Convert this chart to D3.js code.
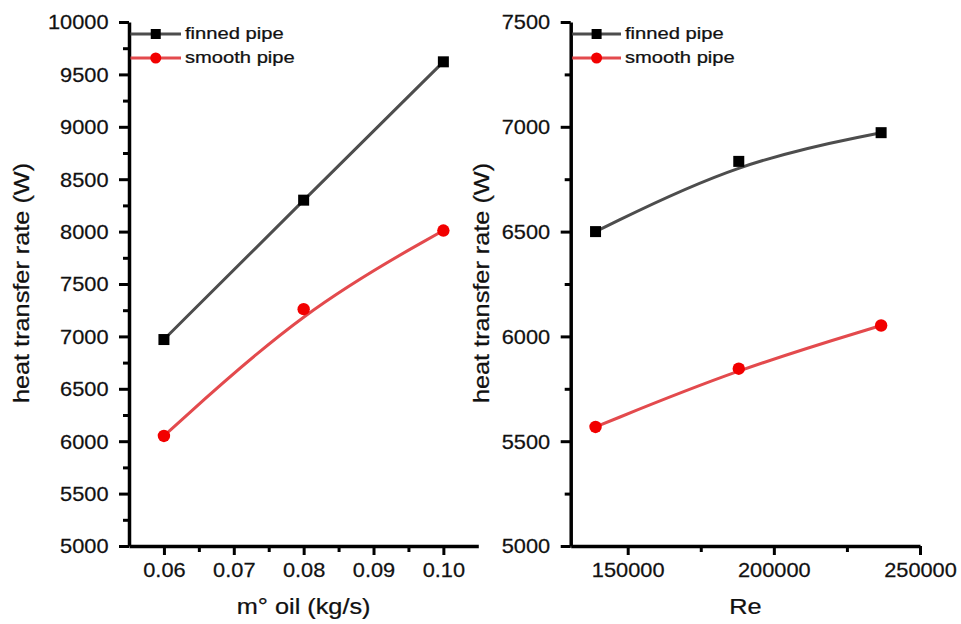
<!DOCTYPE html>
<html><head><meta charset="utf-8">
<script src="https://cdn.jsdelivr.net/npm/d3@7"></script>
<style>
html,body{margin:0;padding:0;background:#fff;}
svg{display:block;}
text{font-family:"Liberation Sans",Arial,sans-serif;fill:#111;stroke:#111;stroke-width:0.25px;}
</style></head>
<body>
<script>
// ---- data ----
const seriesNames = ["finned pipe", "smooth pipe"];
const leftX = [0.06, 0.08, 0.10];
const leftFinned = [6970, 8300, 9620];
const leftSmooth = [6050, 7260, 8010];
const rightRe = [139000, 188000, 236700];
const rightFinned = [6500, 6835, 6972];
const rightSmooth = [5568, 5846, 6052];
const leftXTicks = [0.06, 0.07, 0.08, 0.09, 0.10];
const leftXMinor = [0.065, 0.075, 0.085, 0.095];
const leftYTicks = [5000, 5500, 6000, 6500, 7000, 7500, 8000, 8500, 9000, 9500, 10000];
const leftYMinor = [5250, 5750, 6250, 6750, 7250, 7750, 8250, 8750, 9250, 9750];
const rightXTicks = [150000, 200000, 250000];
const rightXMinor = [175000, 225000];
const rightYTicks = [5000, 5500, 6000, 6500, 7000, 7500];
const rightYMinor = [5250, 5750, 6250, 6750, 7250];
const xTitles = ["m° oil (kg/s)", "Re"];
const yTitle = "heat transfer rate (W)";

const W = 961, H = 624;
const svg = d3.select("body").append("svg").attr("width", W).attr("height", H);

const colFinLine = "#4d4d4d", colFinMark = "#000000";
const colSmLine = "#e34a4d", colSmMark = "#f20000";

function panel(cfg) {
  const x = d3.scaleLinear().domain(cfg.xDomain).range(cfg.xRange);
  const y = d3.scaleLinear().domain(cfg.yDomain).range(cfg.yRange);
  const g = svg.append("g");
  const y0 = cfg.yRange[0], x0 = cfg.xRange[0];

  // minor ticks
  g.append("g").attr("transform", `translate(0,${y0})`)
    .call(d3.axisBottom(x).tickValues(cfg.xMinor).tickSize(6).tickFormat(""))
    .call(s => s.select(".domain").remove())
    .call(s => s.selectAll("line").attr("stroke", "#000").attr("stroke-width", 3));
  g.append("g").attr("transform", `translate(${x0},0)`)
    .call(d3.axisLeft(y).tickValues(cfg.yMinor).tickSize(6).tickFormat(""))
    .call(s => s.select(".domain").remove())
    .call(s => s.selectAll("line").attr("stroke", "#000").attr("stroke-width", 3));

  // major x axis
  const gx = g.append("g").attr("transform", `translate(0,${y0})`)
    .call(d3.axisBottom(x).tickValues(cfg.xTicks).tickSize(9).tickSizeOuter(0).tickFormat(cfg.xFmt));
  gx.select(".domain").attr("stroke", "#000").attr("stroke-width", 3.5);
  gx.selectAll("line").attr("stroke", "#000").attr("stroke-width", 3);
  gx.selectAll("text").attr("font-size", 20).attr("y", 17).attr("dy", "0.71em")
    .attr("transform", "scale(1.09,1)").attr("fill", "#111");

  // major y axis
  const gy = g.append("g").attr("transform", `translate(${x0},0)`)
    .call(d3.axisLeft(y).tickValues(cfg.yTicks).tickSize(10).tickSizeOuter(0).tickFormat(d3.format("d")));
  gy.select(".domain").attr("stroke", "#000").attr("stroke-width", 3.5);
  gy.selectAll("line").attr("stroke", "#000").attr("stroke-width", 3);
  gy.selectAll("text").attr("font-size", 20).attr("x", -20.5 / 1.09).attr("dy", "0.34em")
    .attr("transform", "scale(1.09,1)").attr("fill", "#111");

  // titles
  g.append("text").attr("text-anchor", "middle").attr("font-size", 22)
    .attr("transform", `translate(${(cfg.xRange[0] + cfg.xRange[1]) / 2},614) scale(1.15,1)`)
    .text(cfg.xTitle);
  g.append("text").attr("text-anchor", "middle").attr("font-size", 22)
    .attr("transform", `translate(${cfg.yTitleX},${(cfg.yRange[0] + cfg.yRange[1]) / 2 - 1}) rotate(-90) scale(1.15,1)`)
    .text(yTitle);

  // lines
  const line = d3.line().x(d => x(d[0])).y(d => y(d[1])).curve(d3.curveBasis);
  const fin = cfg.xs.map((v, i) => [v, cfg.fin[i]]);
  const sm = cfg.xs.map((v, i) => [v, cfg.sm[i]]);
  g.append("path").datum(fin).attr("d", line).attr("fill", "none")
    .attr("stroke", colFinLine).attr("stroke-width", 3);
  g.append("path").datum(sm).attr("d", line).attr("fill", "none")
    .attr("stroke", colSmLine).attr("stroke-width", 3);
  g.selectAll(".sq").data(fin).join("rect")
    .attr("x", d => x(d[0]) - 5.5).attr("y", d => y(d[1]) - 5.5)
    .attr("width", 11).attr("height", 11).attr("fill", colFinMark);
  g.selectAll(".ci").data(sm).join("circle")
    .attr("cx", d => x(d[0])).attr("cy", d => y(d[1])).attr("r", 6.2).attr("fill", colSmMark);

  // legend
  const lx0 = x0 + 1.5, lx1 = cfg.legEnd, lm = (lx0 + lx1) / 2;
  const ly = [34, 58];
  const leg = g.append("g");
  leg.append("line").attr("x1", lx0).attr("x2", lx1).attr("y1", ly[0]).attr("y2", ly[0])
    .attr("stroke", colFinLine).attr("stroke-width", 3);
  leg.append("rect").attr("x", lm - 5).attr("y", ly[0] - 5).attr("width", 10).attr("height", 10).attr("fill", colFinMark);
  leg.append("line").attr("x1", lx0).attr("x2", lx1).attr("y1", ly[1]).attr("y2", ly[1])
    .attr("stroke", colSmLine).attr("stroke-width", 3);
  leg.append("circle").attr("cx", lm).attr("cy", ly[1]).attr("r", 5.5).attr("fill", colSmMark);
  seriesNames.forEach((n, i) => {
    leg.append("text").attr("font-size", 16)
      .attr("transform", `translate(${lx1 + 4},${ly[i] + 5.3}) scale(1.26,1)`)
      .text(n);
  });
}

panel({
  xDomain: [0.055, 0.105], xRange: [129, 478.3],
  yDomain: [5000, 10000], yRange: [546, 22],
  xTicks: leftXTicks, xMinor: leftXMinor, yTicks: leftYTicks, yMinor: leftYMinor,
  xFmt: d3.format(".2f"), xTitle: xTitles[0], yTitleX: 28.5,
  xs: leftX, fin: leftFinned, sm: leftSmooth, legEnd: 181
});
panel({
  xDomain: [130500, 250000], xRange: [570.7, 920],
  yDomain: [5000, 7500], yRange: [546, 22],
  xTicks: rightXTicks, xMinor: rightXMinor, yTicks: rightYTicks, yMinor: rightYMinor,
  xFmt: d3.format("d"), xTitle: xTitles[1], yTitleX: 488.5,
  xs: rightRe, fin: rightFinned, sm: rightSmooth, legEnd: 621
});
</script>
</body></html>
